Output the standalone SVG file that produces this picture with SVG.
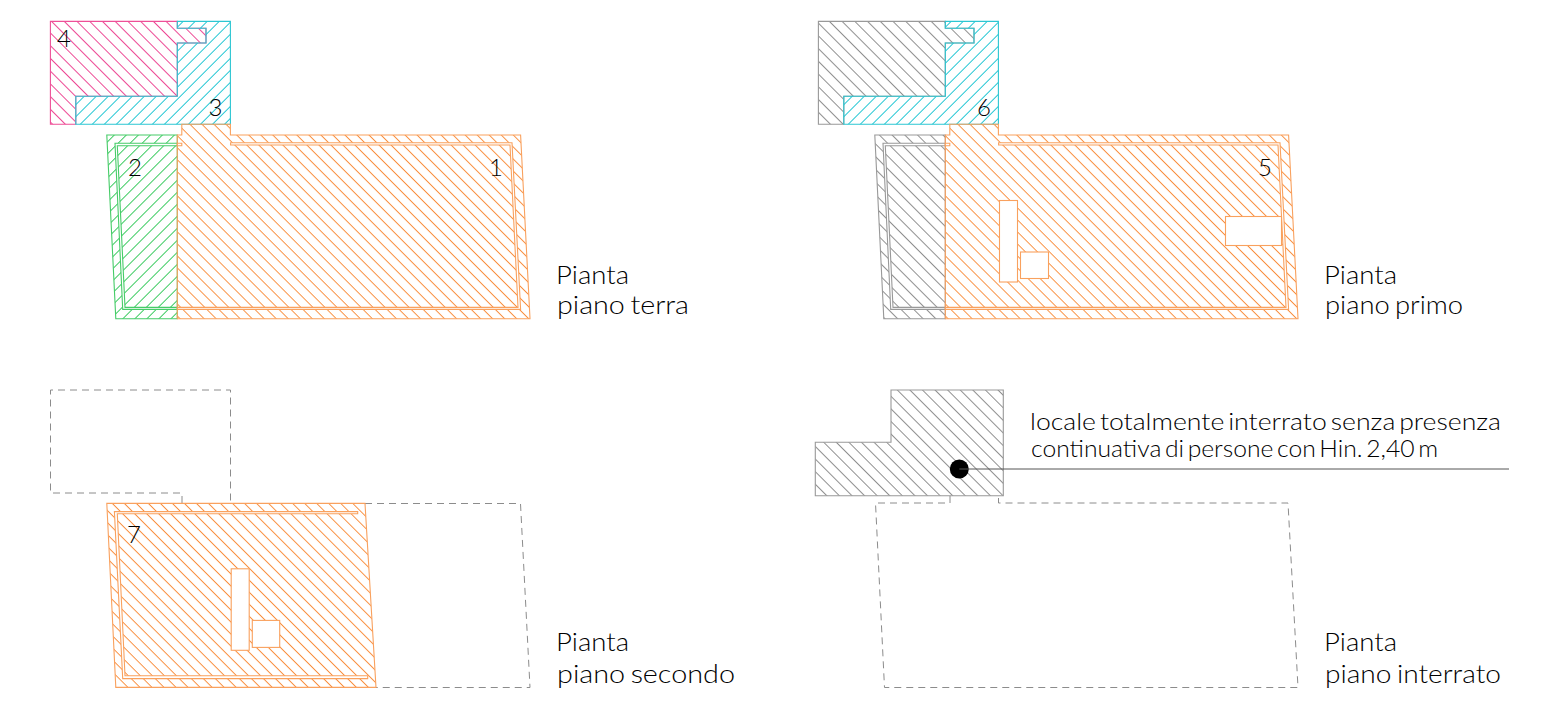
<svg xmlns="http://www.w3.org/2000/svg" width="1552" height="709" viewBox="0 0 1552 709">
<style>
.z{stroke-width:1.1;stroke-linejoin:miter}
.o{stroke:#f9a15e}.c{stroke:#2cc6d2}.p{stroke:#ee4f97}.g{stroke:#46cc68}.y{stroke:#999}
.w{fill:#fff}
.d{fill:none;stroke:#8c8c8c;stroke-width:1;stroke-dasharray:7 5}
text{font-family:"Lato","Liberation Sans",sans-serif;font-weight:300;fill:#000}
.t{font-size:25px;word-spacing:-2px}.s{font-size:24px;word-spacing:-3px}.n{font-size:24px}
</style>
<defs>
<pattern id="ho" width="8.5" height="8.5" patternUnits="userSpaceOnUse" patternTransform="translate(18.3,0) rotate(45)"><line x1="0" y1="0.5" x2="8.5" y2="0.5" stroke="#f98f3f" stroke-width="0.95"/></pattern>
<pattern id="hp" width="9" height="9" patternUnits="userSpaceOnUse" patternTransform="translate(43.6,0) rotate(45)"><line x1="0" y1="0.5" x2="9" y2="0.5" stroke="#ec3f8f" stroke-width="0.95"/></pattern>
<pattern id="hc" width="8.5" height="8.5" patternUnits="userSpaceOnUse" patternTransform="translate(276,0) rotate(-45)"><line x1="0" y1="0.5" x2="8.5" y2="0.5" stroke="#1cc4d2" stroke-width="0.95"/></pattern>
<pattern id="hg" width="8.5" height="8.5" patternUnits="userSpaceOnUse" patternTransform="translate(465,0) rotate(-45)"><line x1="0" y1="0.5" x2="8.5" y2="0.5" stroke="#36c95c" stroke-width="0.95"/></pattern>
<pattern id="hy" width="9" height="9" patternUnits="userSpaceOnUse" patternTransform="translate(40.7,0) rotate(45)"><line x1="0" y1="0.5" x2="9" y2="0.5" stroke="#8a8a8a" stroke-width="0.95"/></pattern>
<pattern id="hz" width="8.9" height="8.9" patternUnits="userSpaceOnUse" patternTransform="translate(508,0) rotate(45)"><line x1="0" y1="0.5" x2="8.9" y2="0.5" stroke="#8a8a8a" stroke-width="0.95"/></pattern>
<polygon id="back" points="50.4,21.4 177.3,21.4 177.3,28.3 206,28.3 206,43 177.3,43 177.3,96.3 75.8,96.3 75.8,124.3 50.4,124.3"/>
<polygon id="front" points="177.3,21.4 230.4,21.4 230.4,124.3 75.8,124.3 75.8,96.3 177.3,96.3 177.3,43 206,43 206,28.3 177.3,28.3"/>
<polygon id="side" points="106.8,135 177.3,135 177.3,318.8 115.8,318.8"/>
<path id="sidewall" d="M177.3,143.3H115L122.7,309.4H177.3V307.4H125L117.3,145.7H177.3Z"/>
<polygon id="main" points="181.8,124.3 230.4,124.3 230.4,135 520.6,135 530,318.8 177.3,318.8 177.3,135 181.8,135"/>
<path id="mainwall" d="M230.6,142.7H512L520.6,309.4H177.3V307.4H518L510,145H230.6ZM177.3,143.3H181.8V145.7H177.3Z"/>
</defs>

<g id="piano-terra">
<g id="zone-4"><use href="#back" class="z p" fill="url(#hp)"/><text class="n" x="57" y="46.5">4</text></g>
<g id="zone-3"><use href="#front" class="z c" fill="url(#hc)"/><text class="n" x="208.5" y="115.5">3</text></g>
<g id="zone-2"><use href="#side" class="z g" fill="url(#hg)"/><use href="#sidewall" class="z g w"/><text class="n" x="128" y="175.5">2</text></g>
<g id="zone-1"><use href="#main" class="z o" fill="url(#ho)"/><use href="#mainwall" class="z o w"/><text class="n" x="489" y="175.5">1</text></g>
<g id="label-terra"><text class="t" x="556" y="283.5" textLength="73" lengthAdjust="spacingAndGlyphs">Pianta</text><text class="t" x="557" y="313.5" textLength="132" lengthAdjust="spacingAndGlyphs">piano terra</text></g>
</g>

<g id="piano-primo">
<g id="zone-grey" transform="translate(768,0)"><use href="#back" class="z y" fill="url(#hy)"/><use href="#side" class="z y" fill="url(#hy)"/><use href="#sidewall" class="z y w"/></g>
<g id="zone-6" transform="translate(768,0)"><use href="#front" class="z c" fill="url(#hc)"/></g>
<g id="zone-5">
<use href="#main" class="z o" fill="url(#ho)" transform="translate(768,0)"/><use href="#mainwall" class="z o w" transform="translate(768,0)"/>
<rect class="z o w" x="999.5" y="200.5" width="18" height="81.5"/>
<rect class="z o w" x="1020.5" y="252" width="28" height="26.5"/>
<rect class="z o w" x="1225.5" y="216.5" width="56" height="29"/>
</g>
<text class="n" x="977" y="115.5">6</text>
<text class="n" x="1258" y="175.5">5</text>
<g id="label-primo"><text class="t" x="1324" y="283.5" textLength="73" lengthAdjust="spacingAndGlyphs">Pianta</text><text class="t" x="1325" y="313.5" textLength="138" lengthAdjust="spacingAndGlyphs">piano primo</text></g>
</g>

<g id="piano-secondo">
<path id="outline-2" class="d" d="M182,503V493H50.5V390H230.5V503M365,503.5H520.5L530,687.5H376"/>
<g id="zone-7">
<polygon class="z o" fill="url(#ho)" points="106.8,503.4 365,503.4 376,687.4 115.8,687.4"/>
<path class="z o w" d="M114.4,511.6H357.7V513.7H117.3L125,675.8H367.7V678.6H122.7Z"/>
<rect class="z o w" x="231.2" y="568.8" width="18" height="81.5"/>
<rect class="z o w" x="252.3" y="620.4" width="27.4" height="27"/>
<text class="n" x="127" y="543">7</text>
</g>
<g id="label-secondo"><text class="t" x="556" y="651" textLength="73" lengthAdjust="spacingAndGlyphs">Pianta</text><text class="t" x="557" y="682.5" textLength="178" lengthAdjust="spacingAndGlyphs">piano secondo</text></g>
</g>

<g id="piano-interrato">
<path id="outline-4" class="d" d="M950,496V503H875.5L884.5,687.5H1298L1288,503H998.5V496"/>
<g id="zone-interrato"><polygon class="z y" fill="url(#hz)" points="815.3,442.3 891,442.3 891,390 1003.3,390 1003.3,495.7 815.3,495.7"/></g>
<g id="callout-dot"><circle cx="959.3" cy="469" r="9.5" fill="#000"/></g>
<g id="label-interrato"><text class="t" x="1324" y="651" textLength="73" lengthAdjust="spacingAndGlyphs">Pianta</text><text class="t" x="1325" y="682.5" textLength="176" lengthAdjust="spacingAndGlyphs">piano interrato</text></g>
<g id="note"><text class="s" x="1030" y="430" textLength="471" lengthAdjust="spacingAndGlyphs">locale totalmente interrato senza presenza</text><text class="s" x="1031" y="457" textLength="407" lengthAdjust="spacingAndGlyphs">continuativa di persone con Hin. 2,40 m</text></g>
</g>

<g id="connectors"><line x1="959.3" y1="469" x2="1509" y2="469" stroke="#555" stroke-width="1"/></g>
</svg>
